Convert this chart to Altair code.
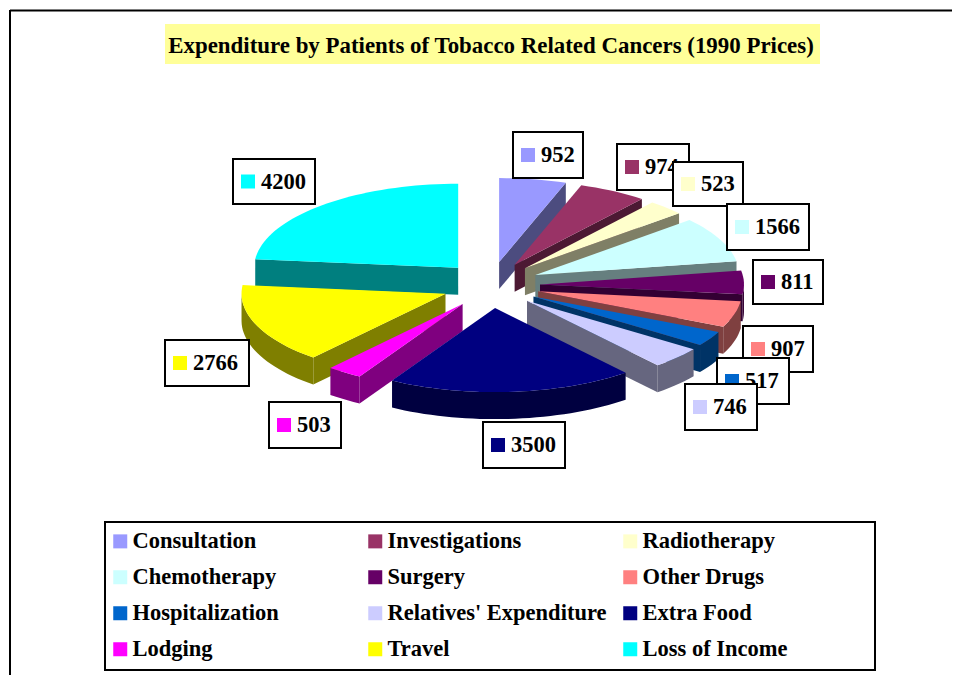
import math
import altair as alt

names = ["Consultation", "Investigations", "Radiotherapy", "Chemotherapy", "Surgery", "Other Drugs",
         "Hospitalization", "Relatives' Expenditure", "Extra Food", "Lodging", "Travel", "Loss of Income"]
values = [952, 974, 523, 1566, 811, 907, 517, 746, 3500, 503, 2766, 4200]
colors = ["#9999FF", "#993366", "#FFFFCC", "#CCFFFF", "#660066", "#FF8080",
          "#0066CC", "#CCCCFF", "#000080", "#FF00FF", "#FFFF00", "#00FFFF"]
title_text = "Expenditure by Patients of Tobacco Related Cancers (1990 Prices)"

FONT = "Liberation Serif"
OX, OY = 8, 8
CX, CY = 491, 285
RX, RY = 204, 84
EX, EY = 49, 23.2
DEPTH = 27

# label box layout (page pixels): x0, x1, y0, y1
label_boxes = [
    (513, 583, 132, 178), (617, 689, 144, 190), (673, 743, 162, 206), (727, 809, 204, 250),
    (753, 823, 260, 304), (743, 813, 326, 372), (717, 789, 358, 404), (685, 757, 384, 430),
    (483, 565, 422, 468), (269, 341, 402, 448), (165, 249, 340, 386), (233, 315, 159, 204),
]


def darken(hex_color):
    r, g, b = (int(hex_color[i:i + 2], 16) for i in (1, 3, 5))
    return "#%02X%02X%02X" % (r // 2, g // 2, b // 2)


def feature(key, pts):
    ring = [[round(x - OX, 2), round(y - OY, 2)] for x, y in pts]
    ring.append(ring[0])
    return {"type": "Feature", "properties": {"key": key},
            "geometry": {"type": "Polygon", "coordinates": [ring]}}


total = sum(values)
wedges = []
running = 0
for name, value in zip(names, values):
    a0 = running / total * 360
    running += value
    a1 = running / total * 360
    wedges.append((name, a0, a1))


def build_faces(name, a0, a1):
    mid = math.radians((a0 + a1) / 2)
    ax = CX + EX * math.sin(mid)
    ay = CY - EY * math.cos(mid)

    def pt(deg):
        r = math.radians(deg)
        return (ax + RX * math.sin(r), ay - RY * math.cos(r))

    n = max(2, int((a1 - a0) / 2))
    arc = [a0 + (a1 - a0) * i / n for i in range(n + 1)]
    out = []
    side = name + " side"

    def extrude(pts):
        return pts + [(x, y + DEPTH) for x, y in reversed(pts)]

    # cut faces visible when their outward normal points to the viewer
    if math.cos(math.radians(a0 - 90)) < 0:
        out.append(feature(side, extrude([(ax, ay), pt(a0)])))
    if math.cos(math.radians(a1 + 90)) < 0:
        out.append(feature(side, extrude([(ax, ay), pt(a1)])))
    vis = [d for d in arc if math.cos(math.radians(d)) < 0]
    lo, hi = max(a0, 90), min(a1, 270)
    if lo < hi:
        vis = sorted(set([lo] + vis + [hi]))
        out.append(feature(side, extrude([pt(d) for d in vis])))
    out.append(feature(name, [(ax, ay)] + [pt(d) for d in arc]))
    return out


order = sorted(wedges, key=lambda w: -math.cos(math.radians((w[1] + w[2]) / 2)))
features = []
for w in order:
    features.extend(build_faces(*w))

side_names = [n + " side" for n in names]
pie = alt.Chart(alt.Data(values=features)).mark_geoshape(strokeWidth=0, stroke=None).encode(
    color=alt.Color(
        "properties.key:N",
        scale=alt.Scale(domain=names + side_names, range=colors + [darken(c) for c in colors]),
        legend=alt.Legend(
            values=names, title=None, orient="none", legendX=101 - OX, legendY=522 - OY,
            direction="horizontal", gridAlign="all", zindex=1,
            columns=3, columnPadding=12, rowPadding=13, padding=8,
            symbolType="square", symbolSize=196, symbolStrokeWidth=0,
            labelFont=FONT, labelFontSize=22.5, labelFontWeight="bold", labelColor="black",
            labelLimit=400, labelOffset=1,
        ),
    )
).project(type="identity", scale=1, translate=[0, 0])


def rule(x0, x1, y0, y1):
    return alt.Chart().mark_rule(color="black", strokeWidth=2).encode(
        x=alt.value(x0 - OX), x2=alt.value(x1 - OX), y=alt.value(y0 - OY), y2=alt.value(y1 - OY))


def rect(x0, x1, y0, y1, fill, stroke=None, sw=0):
    kw = {"fill": fill, "strokeWidth": sw}
    if stroke:
        kw["stroke"] = stroke
    return alt.Chart().mark_rect(**kw).encode(
        x=alt.value(x0 - OX), x2=alt.value(x1 - OX), y=alt.value(y0 - OY), y2=alt.value(y1 - OY))


def text(x, y, s, size=20, align="left"):
    return alt.Chart().mark_text(font=FONT, fontSize=size, fontWeight="bold", color="black",
                                 align=align, baseline="middle").encode(
        x=alt.value(x - OX), y=alt.value(y - OY), text=alt.value(s))


layers = [rule(10, 952, 10.5, 10.5), rule(10, 10, 10, 675),
          rect(105, 875, 522, 670, "white", "black", 2), pie,
          rect(165, 820, 24, 64, "#FFFF99"), text(491, 46, title_text, 22.9, "center")]

for value, color, (x0, x1, y0, y1) in zip(values, colors, label_boxes):
    cy = (y0 + y1) / 2
    label = str(value)
    layers.append(rect(x0, x1, y0, y1, "white", "black", 2))
    layers.append(rect(x0 + 8, x0 + 22, cy - 7, cy + 7, color))
    layers.append(text(x0 + 28, cy, label, 22.5))

chart = alt.layer(*layers).properties(
    width=944, height=667, padding=0, autosize=alt.AutoSizeParams(type="none")
).configure_view(stroke=None)

chart.save("out.html", embed_options={"renderer": "svg", "actions": False})
